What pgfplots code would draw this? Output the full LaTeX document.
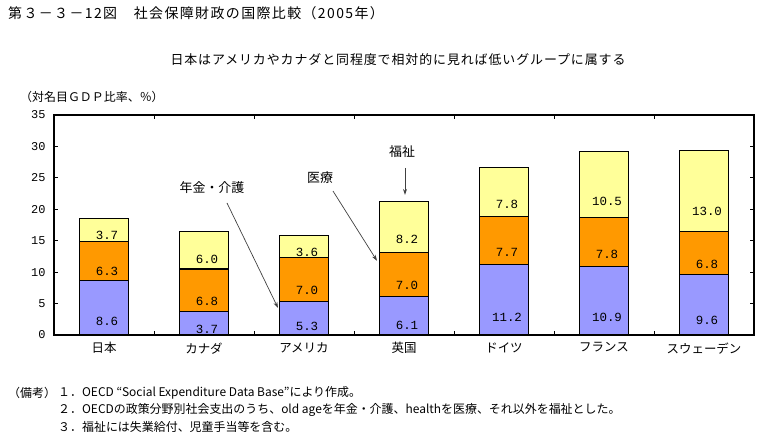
\documentclass[border=0pt]{standalone}
\usepackage{pgfplots}
\pgfplotsset{compat=1.18}
\usetikzlibrary{arrows.meta}
\usepackage{fontspec}
\setmainfont{Noto Sans CJK JP}
\newfontfamily\mono{Liberation Mono}
\definecolor{c1}{HTML}{9999FF}
\definecolor{c2}{HTML}{FF9900}
\definecolor{c3}{HTML}{FFFF99}
\begin{document}
\begin{tikzpicture}[x=1bp,y=1bp]
\path (0,0) rectangle (762,440);
\node[anchor=west,inner sep=0pt,font=\fontsize{14}{16}\selectfont\addfontfeature{LetterSpace=10}] at (8,427) {第３－３－12図　社会保障財政の国際比較（2005年）};
\node[inner sep=0pt,font=\fontsize{13}{15}\selectfont\addfontfeature{LetterSpace=7}] at (398,380) {日本はアメリカやカナダと同程度で相対的に見れば低いグループに属する};
\node[anchor=west,inner sep=0pt,font=\fontsize{12}{14}\selectfont] at (20,343) {（対名目ＧＤＰ比率、％）};
\node[anchor=west,inner sep=0pt,font=\fontsize{12}{14}\selectfont] at (8,47) {（備考）};
\node[anchor=west,inner sep=0pt,font=\fontsize{12}{14}\selectfont] at (58,47) {１．OECD “Social Expenditure Data Base”により作成。};
\node[anchor=west,inner sep=0pt,font=\fontsize{12}{14}\selectfont] at (58,30) {２．OECDの政策分野別社会支出のうち、old ageを年金・介護、healthを医療、それ以外を福祉とした。};
\node[anchor=west,inner sep=0pt,font=\fontsize{12}{14}\selectfont] at (58,13) {３．福祉には失業給付、児童手当等を含む。};
\begin{axis}[
  at={(54bp,105bp)}, anchor=south west,
  scale only axis, width=700bp, height=220bp,
  ybar stacked, bar width=49bp,
  xmin=-0.5, xmax=6.5, ymin=0, ymax=35,
  xtick={0.5,1.5,...,5.5}, xticklabels={},
  extra x ticks={0,1,2,3,4,5,6},
  extra x tick labels={日本,カナダ,アメリカ,英国,ドイツ,フランス,スウェーデン},
  extra x tick style={major tick length=0pt, tick style={draw=none}},
  ytick={0,5,...,35},
  tick align=inside,
  major tick length=4bp,
  tick style={black, line width=0.8pt},
  axis line style={line width=1.6pt},
  /pgf/number format/assume math mode=true,
  yticklabel style={font=\mono\fontsize{12}{14}\selectfont, xshift=-5bp},
  xticklabel style={font=\fontsize{12.5}{14}\selectfont, yshift=-4bp},
  visualization depends on=rawy \as \rawy,
  nodes near coords={\pgfmathprintnumber[fixed,fixed zerofill,precision=1]{\rawy}},
  every node near coord/.append style={anchor=center, font=\mono\fontsize{12.5}{14}\selectfont, yshift={-3.142857bp*\rawy/2}, xshift=3bp},
  clip=false,
]
\addplot[fill=c1, draw=black, line width=1.1pt] coordinates {(0,8.6) (1,3.7) (2,5.3) (3,6.1) (4,11.2) (5,10.9) (6,9.6)};
\addplot[fill=c2, draw=black, line width=1.1pt] coordinates {(0,6.3) (1,6.8) (2,7.0) (3,7.0) (4,7.7) (5,7.8) (6,6.8)};
\addplot[fill=c3, draw=black, line width=1.1pt] coordinates {(0,3.7) (1,6.0) (2,3.6) (3,8.2) (4,7.8) (5,10.5) (6,13.0)};
\node[font=\fontsize{13}{15}\selectfont] at (axis cs:1.08,23.4) {年金・介護};
\node[font=\fontsize{13}{15}\selectfont] at (axis cs:2.16,25.1) {医療};
\node[font=\fontsize{13}{15}\selectfont] at (axis cs:2.98,29.1) {福祉};
\draw[-{Stealth[length=6bp,width=4bp]}, line width=0.7pt, black!75] (axis cs:1.23,21.0) -- (axis cs:1.74,4.3);
\draw[-{Stealth[length=6bp,width=4bp]}, line width=0.7pt, black!75] (axis cs:2.29,22.9) -- (axis cs:2.73,11.8);
\draw[-{Stealth[length=6bp,width=4bp]}, line width=0.7pt, black!75] (axis cs:3.01,26.6) -- (axis cs:3.01,22.3);
\end{axis}
\end{tikzpicture}
\end{document}
